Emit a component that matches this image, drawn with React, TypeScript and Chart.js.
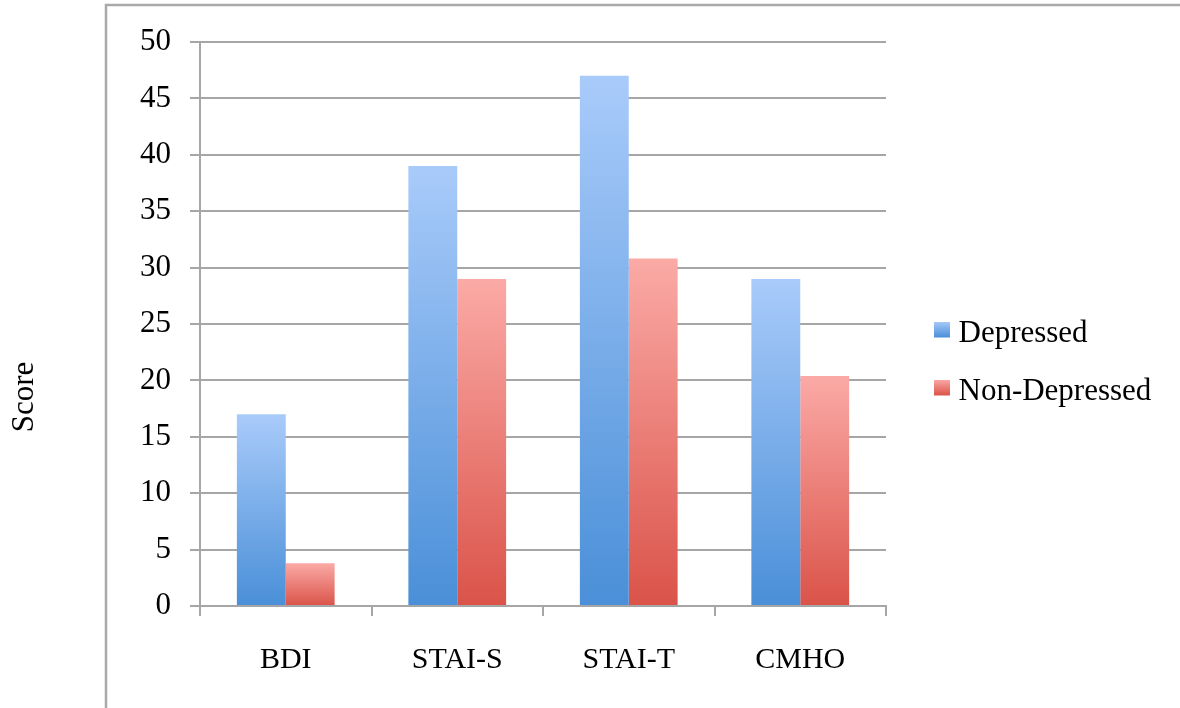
import React, { useEffect, useRef } from "react";
import { Chart, registerables } from "chart.js";

Chart.register(...registerables);

const categories = ["BDI", "STAI-S", "STAI-T", "CMHO"];
const depressed = [17, 39, 47, 29];
const nonDepressed = [3.8, 29, 30.8, 20.4];
const seriesNames = ["Depressed", "Non-Depressed"];
const yTickMin = 0;
const yTickMax = 50;
const yTickStep = 5;
const yAxisTitle = "Score";

const BLUE_TOP = "#a9cbfa";
const BLUE_BOTTOM = "#4a8fd8";
const RED_TOP = "#fbaaa6";
const RED_BOTTOM = "#da5349";
const GRID = "#a6a6a6";
const FONT = "'Liberation Serif', 'Times New Roman', serif";

function gradientFill(top: string, bottom: string) {
  return (ctx: any) => {
    const chart = ctx.chart;
    const y = chart.scales && chart.scales.y;
    if (!chart.chartArea || !y || ctx.type !== "data") return bottom;
    const yTop = y.getPixelForValue(ctx.raw);
    const yBot = y.getPixelForValue(0);
    const g = chart.ctx.createLinearGradient(0, yTop, 0, yBot);
    g.addColorStop(0, top);
    g.addColorStop(1, bottom);
    return g;
  };
}

function legendSwatch(top: string, bottom: string) {
  const c = document.createElement("canvas");
  c.width = 44;
  c.height = 24;
  const x = c.getContext("2d")!;
  const g = x.createLinearGradient(0, 0, 0, 16);
  g.addColorStop(0, top);
  g.addColorStop(1, bottom);
  x.fillStyle = g;
  x.fillRect(28, 0, 16, 16);
  return c;
}

const framePlugin = {
  id: "frameAndTitle",
  beforeDraw(chart: any) {
    const ctx = chart.ctx;
    ctx.save();
    ctx.strokeStyle = "#a9a9a9";
    ctx.lineWidth = 2.5;
    ctx.beginPath();
    ctx.moveTo(106, 708);
    ctx.lineTo(106, 5);
    ctx.lineTo(1180, 5);
    ctx.stroke();
    ctx.translate(25, 397);
    ctx.rotate(-Math.PI / 2);
    ctx.fillStyle = "#000";
    ctx.font = `31px ${FONT}`;
    ctx.textAlign = "center";
    ctx.textBaseline = "middle";
    ctx.fillText(yAxisTitle, 0, 0);
    ctx.restore();
  },
};

export default function App() {
  const ref = useRef<HTMLCanvasElement>(null);

  useEffect(() => {
    if (!ref.current) return;
    const swatches = [legendSwatch(BLUE_TOP, BLUE_BOTTOM), legendSwatch(RED_TOP, RED_BOTTOM)];
    const chart = new Chart(ref.current, {
      type: "bar",
      data: {
        labels: categories,
        datasets: [
          {
            label: seriesNames[0],
            data: depressed,
            backgroundColor: gradientFill(BLUE_TOP, BLUE_BOTTOM),
            categoryPercentage: 0.57,
            barPercentage: 1,
          },
          {
            label: seriesNames[1],
            data: nonDepressed,
            backgroundColor: gradientFill(RED_TOP, RED_BOTTOM),
            categoryPercentage: 0.57,
            barPercentage: 1,
          },
        ],
      },
      options: {
        animation: false,
        responsive: true,
        maintainAspectRatio: false,
        layout: { padding: { top: 42, left: 0, right: 26, bottom: 25 } },
        plugins: {
          tooltip: { enabled: false },
          legend: {
            position: "right",
            align: "center",
            maxWidth: 268,
            labels: {
              usePointStyle: true,
              pointStyleWidth: 30,
              padding: 27,
              color: "#000",
              font: { family: FONT, size: 31 },
              generateLabels: (c: any) => {
                const items = Chart.defaults.plugins.legend.labels.generateLabels(c);
                items.forEach((it: any, i: number) => {
                  it.pointStyle = swatches[i];
                });
                return items;
              },
            },
          },
        },
        scales: {
          x: {
            afterFit: (s: any) => {
              s.height = 77;
            },
            grid: {
              offset: true,
              drawOnChartArea: false,
              color: GRID,
              lineWidth: 2,
              tickLength: 10,
            },
            border: { color: GRID, width: 2 },
            ticks: {
              color: "#000",
              padding: 26,
              font: { family: FONT, size: 30 },
            },
          },
          y: {
            min: yTickMin,
            max: yTickMax,
            afterFit: (s: any) => {
              s.width = 200;
            },
            grid: { color: GRID, lineWidth: 2, tickLength: 10 },
            border: { color: GRID, width: 2 },
            ticks: {
              stepSize: yTickStep,
              color: "#000",
              padding: 19,
              font: { family: FONT, size: 31 },
            },
          },
        },
      },
      plugins: [framePlugin],
    } as any);
    return () => chart.destroy();
  }, []);

  return (
    <div style={{ position: "fixed", left: 0, top: 0, width: 1180, height: 708, background: "#fff" }}>
      <canvas ref={ref} />
    </div>
  );
}
